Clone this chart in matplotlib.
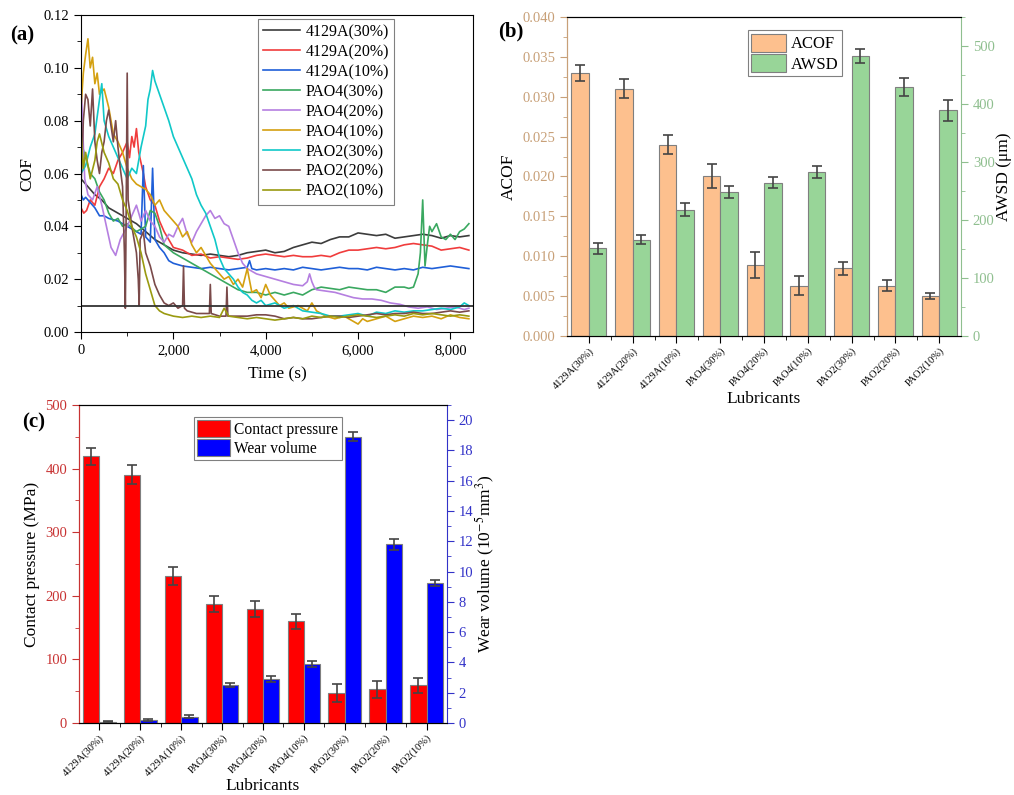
import matplotlib
matplotlib.use("Agg")
import matplotlib.pyplot as plt
from matplotlib.ticker import FuncFormatter, MultipleLocator
import numpy as np

plt.rcParams['font.family'] = ['Liberation Serif', 'DejaVu Serif']
plt.rcParams['mathtext.fontset'] = 'stix'

# ---------------- data: panel (a) COF vs time ----------------
t_4129a30 = [0,150,300,450,600,800,1000,1200,1400,1600,1800,2000,2200,2400,2600,2800,3000,3200,3400,3600,3800,4000,4200,4400,4600,4800,5000,5200,5400,5600,5800,6000,6200,6400,6600,6800,7000,7200,7400,7600,7800,8000,8200,8400]
c_4129a30 = [0.058,0.055,0.052,0.05,0.047,0.045,0.043,0.041,0.038,0.035,0.033,0.031,0.030,0.0295,0.029,0.0295,0.029,0.0285,0.029,0.030,0.0305,0.031,0.030,0.0305,0.032,0.033,0.034,0.0335,0.035,0.036,0.036,0.0375,0.037,0.0365,0.037,0.0355,0.036,0.0365,0.037,0.0365,0.0355,0.0365,0.036,0.0365]

t_4129a20 = [0,60,120,200,300,400,500,600,700,800,900,1000,1050,1100,1150,1200,1250,1300,1350,1400,1500,1600,1700,1800,1900,2000,2200,2400,2600,2800,3000,3200,3400,3600,3800,4000,4200,4400,4600,4800,5000,5200,5400,5600,5800,6000,6200,6400,6600,6800,7000,7200,7400,7600,7800,8000,8200,8400]
c_4129a20 = [0.047,0.045,0.046,0.050,0.048,0.055,0.058,0.062,0.060,0.065,0.068,0.072,0.066,0.074,0.070,0.077,0.068,0.064,0.060,0.055,0.050,0.048,0.042,0.038,0.035,0.032,0.031,0.029,0.0295,0.028,0.0285,0.028,0.0275,0.028,0.029,0.0295,0.029,0.0285,0.029,0.0285,0.0285,0.029,0.0285,0.030,0.031,0.031,0.0315,0.032,0.0315,0.032,0.033,0.0335,0.033,0.0325,0.031,0.0315,0.032,0.031]

t_4129a10 = [0,50,100,200,300,400,500,600,800,1000,1200,1300,1350,1400,1500,1550,1600,1700,1800,1900,2000,2200,2400,2600,2800,3000,3200,3400,3600,3650,3700,3800,4000,4200,4400,4600,4800,5000,5200,5400,5600,5800,6000,6200,6400,6600,6800,7000,7200,7400,7600,7800,8000,8200,8400]
c_4129a10 = [0.052,0.05,0.051,0.049,0.047,0.044,0.044,0.043,0.042,0.040,0.038,0.037,0.063,0.036,0.034,0.062,0.035,0.032,0.030,0.027,0.026,0.025,0.0245,0.024,0.0245,0.024,0.0235,0.024,0.0245,0.027,0.024,0.0235,0.024,0.0235,0.024,0.0235,0.0245,0.024,0.0235,0.024,0.0245,0.024,0.024,0.0235,0.0245,0.024,0.0235,0.024,0.0235,0.0245,0.024,0.0245,0.025,0.0245,0.024]

t_pao430 = [0,100,200,300,400,500,600,700,800,900,1000,1200,1400,1500,1600,1700,1800,2000,2200,2400,2600,2800,3000,3200,3400,3600,3800,4000,4200,4400,4600,4800,5000,5200,5400,5600,5800,6000,6200,6400,6600,6800,7000,7100,7200,7300,7350,7400,7450,7500,7550,7600,7700,7800,7900,8000,8100,8200,8300,8400]
c_pao430 = [0.072,0.066,0.060,0.058,0.053,0.050,0.045,0.042,0.043,0.040,0.041,0.038,0.040,0.046,0.045,0.040,0.033,0.030,0.028,0.026,0.024,0.022,0.020,0.018,0.016,0.015,0.015,0.014,0.015,0.014,0.015,0.014,0.016,0.017,0.0165,0.016,0.017,0.0165,0.016,0.016,0.015,0.017,0.017,0.0165,0.017,0.022,0.030,0.050,0.025,0.033,0.040,0.038,0.041,0.036,0.035,0.037,0.035,0.038,0.039,0.041]

t_pao420 = [0,40,80,150,250,350,450,550,650,750,850,1000,1100,1200,1300,1400,1500,1600,1700,1800,1900,2000,2100,2200,2300,2400,2500,2600,2700,2800,2900,3000,3100,3200,3300,3400,3500,3600,3800,4000,4200,4400,4600,4800,4900,4950,5000,5050,5100,5300,5500,5700,5900,6100,6300,6500,6700,6900,7100,7300,7500,7700,7900,8100,8300,8400]
c_pao420 = [0.098,0.075,0.058,0.052,0.050,0.055,0.048,0.040,0.032,0.029,0.035,0.040,0.044,0.048,0.042,0.046,0.042,0.040,0.036,0.034,0.037,0.036,0.040,0.043,0.037,0.034,0.038,0.041,0.044,0.046,0.043,0.044,0.041,0.040,0.035,0.030,0.026,0.024,0.022,0.021,0.020,0.019,0.018,0.0175,0.019,0.022,0.019,0.017,0.016,0.0155,0.015,0.014,0.013,0.0125,0.0125,0.012,0.011,0.0105,0.0095,0.009,0.0095,0.0085,0.009,0.0095,0.0085,0.009]

t_pao410 = [0,50,100,150,200,250,300,350,400,500,600,700,800,900,1000,1100,1200,1300,1400,1500,1600,1700,1800,1900,2000,2100,2200,2300,2400,2500,2600,2700,2800,2900,3000,3100,3200,3300,3400,3500,3600,3700,3800,3900,4000,4100,4200,4300,4400,4500,4700,4900,5000,5100,5300,5500,5700,5900,6000,6100,6200,6400,6600,6800,7000,7200,7400,7600,7800,8000,8200,8400]
c_pao410 = [0.085,0.098,0.105,0.111,0.100,0.104,0.094,0.098,0.090,0.092,0.085,0.075,0.072,0.068,0.062,0.058,0.056,0.055,0.054,0.052,0.048,0.050,0.046,0.044,0.042,0.040,0.036,0.038,0.033,0.030,0.032,0.029,0.026,0.024,0.022,0.020,0.021,0.018,0.020,0.017,0.024,0.015,0.016,0.013,0.018,0.014,0.012,0.010,0.011,0.009,0.010,0.008,0.011,0.008,0.006,0.005,0.006,0.004,0.003,0.005,0.004,0.005,0.006,0.004,0.005,0.006,0.0055,0.006,0.005,0.0065,0.0055,0.005]

t_pao230 = [0,100,200,300,400,450,500,600,700,800,900,1000,1100,1200,1300,1400,1450,1500,1550,1600,1700,1800,1900,2000,2100,2200,2300,2400,2500,2600,2700,2800,2900,3000,3100,3200,3300,3400,3500,3600,3700,3800,3900,4000,4200,4400,4600,4800,5000,5200,5400,5600,5800,6000,6200,6400,6600,6800,7000,7200,7400,7600,7800,8000,8200,8300,8400]
c_pao230 = [0.060,0.063,0.070,0.075,0.088,0.094,0.080,0.074,0.070,0.066,0.062,0.058,0.062,0.060,0.070,0.078,0.088,0.092,0.099,0.095,0.090,0.085,0.080,0.074,0.070,0.066,0.062,0.058,0.052,0.048,0.045,0.040,0.035,0.028,0.024,0.022,0.020,0.017,0.015,0.014,0.012,0.011,0.012,0.010,0.011,0.009,0.010,0.008,0.0075,0.007,0.006,0.006,0.0065,0.007,0.006,0.0075,0.007,0.008,0.0075,0.008,0.008,0.0085,0.009,0.0085,0.0095,0.011,0.010]

t_pao220 = [0,50,100,150,200,250,300,350,400,450,500,550,600,650,700,750,800,850,900,940,960,980,1000,1020,1060,1100,1150,1200,1240,1260,1280,1350,1400,1500,1600,1700,1800,1900,2000,2100,2200,2220,2240,2300,2500,2700,2780,2800,2820,3000,3140,3160,3180,3400,3600,3800,4000,4200,4400,4600,4800,5000,5200,5400,5600,5800,6000,6200,6400,6600,6800,7000,7200,7400,7600,7800,8000,8200,8400]
c_pao220 = [0.055,0.080,0.090,0.088,0.078,0.092,0.072,0.065,0.060,0.068,0.072,0.080,0.084,0.078,0.072,0.080,0.070,0.062,0.055,0.030,0.009,0.050,0.098,0.050,0.045,0.040,0.035,0.030,0.020,0.010,0.035,0.038,0.030,0.025,0.018,0.014,0.011,0.010,0.011,0.009,0.010,0.025,0.009,0.008,0.007,0.007,0.007,0.018,0.007,0.006,0.006,0.017,0.006,0.006,0.006,0.0065,0.0065,0.006,0.005,0.0055,0.005,0.005,0.0055,0.006,0.006,0.0055,0.006,0.0065,0.007,0.0065,0.007,0.007,0.0075,0.007,0.007,0.0075,0.008,0.0075,0.008]

t_pao210 = [0,50,100,200,300,350,400,500,600,700,800,900,1000,1100,1200,1300,1400,1500,1600,1700,1800,1900,2000,2200,2400,2600,2800,3000,3100,3200,3400,3600,3800,4000,4200,4400,4600,4800,5000,5200,5400,5600,5800,6000,6200,6400,6600,6800,7000,7200,7400,7600,7800,8000,8200,8400]
c_pao210 = [0.075,0.062,0.068,0.058,0.065,0.072,0.075,0.068,0.064,0.058,0.056,0.050,0.046,0.040,0.036,0.030,0.022,0.016,0.010,0.008,0.007,0.0065,0.006,0.0055,0.006,0.0055,0.006,0.0055,0.009,0.006,0.0055,0.005,0.0055,0.005,0.0045,0.005,0.0055,0.005,0.006,0.0055,0.006,0.0055,0.006,0.0065,0.006,0.0055,0.006,0.0065,0.006,0.007,0.0065,0.007,0.0065,0.006,0.0065,0.006]

cof_labels = ['4129A(30%)', '4129A(20%)', '4129A(10%)', 'PAO4(30%)', 'PAO4(20%)',
              'PAO4(10%)', 'PAO2(30%)', 'PAO2(20%)', 'PAO2(10%)']
cof_series = [(t_4129a30, c_4129a30), (t_4129a20, c_4129a20), (t_4129a10, c_4129a10),
              (t_pao430, c_pao430), (t_pao420, c_pao420), (t_pao410, c_pao410),
              (t_pao230, c_pao230), (t_pao220, c_pao220), (t_pao210, c_pao210)]
cof_colors = ['#3c3c3c', '#f03c3c', '#1f5fd8', '#3aa860', '#b57fe0',
              '#d4a010', '#10c8c8', '#7a4a4a', '#9a9a10']
cof_ref = 0.01

# ---------------- data: panels (b) and (c) ----------------
lubricants = ['4129A(30%)', '4129A(20%)', '4129A(10%)', 'PAO4(30%)', 'PAO4(20%)',
              'PAO4(10%)', 'PAO2(30%)', 'PAO2(20%)', 'PAO2(10%)']
acof = [0.033, 0.031, 0.024, 0.020, 0.0089, 0.0063, 0.0085, 0.0063, 0.0050]
acof_err = [0.001, 0.0012, 0.0012, 0.0015, 0.0016, 0.0012, 0.0008, 0.0007, 0.0004]
awsd = [151, 166, 218, 248, 264, 283, 483, 429, 389]
awsd_err = [10, 8, 12, 11, 9.5, 10, 12, 16, 18]

pressure = [419, 390, 231, 187, 179, 160, 47, 53, 59]
pressure_err = [14, 15, 14.5, 12, 12, 12, 14.5, 13.5, 12]
wear = [0.07, 0.18, 0.42, 2.5, 2.9, 3.9, 18.9, 11.8, 9.25]
wear_err = [0.03, 0.05, 0.08, 0.13, 0.18, 0.22, 0.3, 0.35, 0.18]


fig = plt.figure(figsize=(10.14, 7.95), dpi=100)

# ================= (a) =================
ax_a = fig.add_axes([0.0799, 0.5824, 0.3866, 0.3987])
for (t, c), lab, col in zip(cof_series, cof_labels, cof_colors):
    ax_a.plot(t, c, color=col, lw=1.2, label=lab)
ax_a.axhline(cof_ref, color='#333333', lw=1.3)
ax_a.set_xlim(0, 8490)
ax_a.set_ylim(0, 0.12)
ax_a.xaxis.set_major_locator(MultipleLocator(2000))
ax_a.xaxis.set_minor_locator(MultipleLocator(1000))
ax_a.yaxis.set_major_locator(MultipleLocator(0.02))
ax_a.yaxis.set_minor_locator(MultipleLocator(0.01))
ax_a.xaxis.set_major_formatter(FuncFormatter(lambda v, p: f'{int(v):,}'))
ax_a.yaxis.set_major_formatter(FuncFormatter(lambda v, p: f'{v:.2f}'))
ax_a.tick_params(which='both', direction='out', labelsize=10.5)
ax_a.tick_params(which='major', length=5)
ax_a.tick_params(which='minor', length=3)
ax_a.set_xlabel('Time (s)', fontsize=12.5, labelpad=7)
ax_a.set_ylabel('COF', fontsize=12.5, labelpad=6)
leg = ax_a.legend(loc='upper left', bbox_to_anchor=(0.452, 0.987), fontsize=11.5,
                  frameon=True, fancybox=False, edgecolor='#808080', framealpha=1,
                  handlelength=2.3, labelspacing=0.25, borderpad=0.3,
                  handletextpad=0.35, borderaxespad=0)
leg.get_frame().set_linewidth(0.8)
fig.text(0.022, 0.955, '(a)', fontsize=15, fontweight='bold', ha='center', va='center')


def bar_panel(rect, left_vals, left_err, right_vals, right_err, left_col, right_col,
              left_edge, right_edge, left_tick, right_tick, left_label, right_label,
              left_lim, right_lim, left_major, left_minor, right_major, right_minor,
              left_fmt, right_fmt, leg_names, leg_anchor, leg_size, rpad, edge='#7f7f7f'):
    ax = fig.add_axes(rect)
    ax2 = ax.twinx()
    x = np.arange(len(lubricants))
    w = 0.4
    ax.bar(x - w / 2, left_vals, w, yerr=left_err, color=left_col, edgecolor=edge,
           lw=0.8, capsize=3.5, error_kw=dict(ecolor='#444444', elinewidth=1.2, capthick=1.2),
           label=leg_names[0])
    ax2.bar(x + w / 2, right_vals, w, yerr=right_err, color=right_col, edgecolor=edge,
            lw=0.8, capsize=3.5, error_kw=dict(ecolor='#444444', elinewidth=1.2, capthick=1.2),
            label=leg_names[1])
    ax.set_xlim(-0.5, len(lubricants) - 0.5)
    ax.set_ylim(*left_lim)
    ax2.set_ylim(*right_lim)
    ax.set_xticks(x)
    ax.set_xticks(x[:-1] + 0.5, minor=True)
    ax.set_xticklabels(lubricants, rotation=45, ha='right', rotation_mode='anchor',
                       fontsize=7.5)
    ax.yaxis.set_major_locator(MultipleLocator(left_major))
    ax.yaxis.set_minor_locator(MultipleLocator(left_minor))
    ax2.yaxis.set_major_locator(MultipleLocator(right_major))
    ax2.yaxis.set_minor_locator(MultipleLocator(right_minor))
    ax.yaxis.set_major_formatter(FuncFormatter(left_fmt))
    ax2.yaxis.set_major_formatter(FuncFormatter(right_fmt))
    ax.tick_params(which='both', direction='out')
    ax2.tick_params(which='both', direction='out')
    ax.tick_params(axis='x', which='major', length=5, pad=2)
    ax.tick_params(axis='x', which='minor', length=3)
    ax.tick_params(axis='y', which='major', length=5, colors=left_tick, labelsize=10.5)
    ax.tick_params(axis='y', which='minor', length=3, colors=left_tick)
    ax2.tick_params(axis='y', which='major', length=5, colors=right_tick, labelsize=10.5)
    ax2.tick_params(axis='y', which='minor', length=3, colors=right_tick)
    ax.spines['left'].set_color(left_edge)
    ax2.spines['left'].set_color(left_edge)
    ax2.spines['right'].set_color(right_edge)
    ax.spines['right'].set_visible(False)
    ax.set_ylabel(left_label, fontsize=12.5)
    ax2.set_ylabel(right_label, fontsize=12.5, labelpad=rpad)
    ax.set_xlabel('Lubricants', fontsize=12.5, labelpad=0)
    h1, l1 = ax.get_legend_handles_labels()
    h2, l2 = ax2.get_legend_handles_labels()
    lg = ax2.legend(h1 + h2, l1 + l2, loc='upper left', bbox_to_anchor=leg_anchor,
                    fontsize=leg_size, frameon=True, fancybox=False, edgecolor='#808080',
                    framealpha=1, handlelength=2.1, handleheight=1.3, labelspacing=0.1,
                    borderpad=0.2, handletextpad=0.3, borderaxespad=0)
    lg.get_frame().set_linewidth(0.8)
    return ax, ax2


# ================= (b) =================
bar_panel([0.5592, 0.5774, 0.3886, 0.4013], acof, acof_err, awsd, awsd_err,
          '#fdc08e', '#98d598', '#c8a078', '#8fbf8f', '#c8a078', '#8fbf8f',
          'ACOF', 'AWSD (μm)', (0, 0.04), (0, 550), 0.005, 0.0025, 100, 50,
          lambda v, p: f'{v:.3f}', lambda v, p: f'{int(v)}',
          ['ACOF', 'AWSD'], (0.459, 0.958), 12, 1)
fig.text(0.5035, 0.961, '(b)', fontsize=15, fontweight='bold', ha='center', va='center')

# ================= (c) =================
bar_panel([0.0779, 0.0906, 0.3629, 0.4], pressure, pressure_err, wear, wear_err,
          '#ff0000', '#0000ff', '#c83232', '#3232c8', '#c83232', '#3232c8',
          'Contact pressure (MPa)', r'Wear volume (10$^{-5}$mm$^3$)', (0, 500), (0, 21),
          100, 50, 2, 1,
          lambda v, p: f'{int(v)}', lambda v, p: f'{int(v)}',
          ['Contact pressure', 'Wear volume'], (0.3125, 0.962), 11.2, 0)
fig.text(0.033, 0.468, '(c)', fontsize=15, fontweight='bold', ha='center', va='center')

fig.savefig('out.png', dpi=100)
